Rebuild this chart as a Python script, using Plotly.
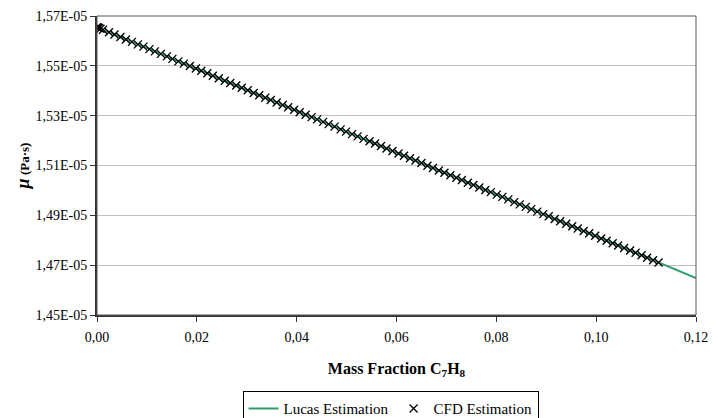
import plotly.graph_objects as go

# Lucas estimation (line)
lucas_x = [0.00, 0.02, 0.04, 0.06, 0.08, 0.10, 0.12]
lucas_y = [1.5655, 1.5487, 1.5319, 1.5151, 1.4983, 1.4816, 1.4648]  # x1e-5

# CFD estimation (markers)
cfd_x = [0.0000, 0.0002, 0.0004, 0.0007,
         0.0012, 0.0024, 0.0035, 0.0047, 0.0058, 0.0070, 0.0082, 0.0093, 0.0105, 0.0116,
         0.0128, 0.0140, 0.0151, 0.0163, 0.0174, 0.0186, 0.0198, 0.0209, 0.0221, 0.0232,
         0.0244, 0.0256, 0.0267, 0.0279, 0.0290, 0.0302, 0.0314, 0.0325, 0.0337, 0.0348,
         0.0360, 0.0372, 0.0383, 0.0395, 0.0406, 0.0418, 0.0430, 0.0441, 0.0453, 0.0464,
         0.0476, 0.0488, 0.0499, 0.0511, 0.0522, 0.0534, 0.0546, 0.0557, 0.0569, 0.0580,
         0.0592, 0.0604, 0.0615, 0.0627, 0.0638, 0.0650, 0.0662, 0.0673, 0.0685, 0.0696,
         0.0708, 0.0720, 0.0731, 0.0743, 0.0754, 0.0766, 0.0778, 0.0789, 0.0801, 0.0812,
         0.0824, 0.0836, 0.0847, 0.0859, 0.0870, 0.0882, 0.0894, 0.0905, 0.0917, 0.0928,
         0.0940, 0.0952, 0.0963, 0.0975, 0.0986, 0.0998, 0.1010, 0.1021, 0.1033, 0.1044,
         0.1056, 0.1068, 0.1079, 0.1091, 0.1102, 0.1114, 0.1125]
cfd_y = [1.5655, 1.5653, 1.5652, 1.5649,
         1.5645, 1.5635, 1.5626, 1.5616, 1.5606, 1.5596, 1.5586, 1.5577, 1.5567, 1.5558,
         1.5548, 1.5538, 1.5528, 1.5518, 1.5509, 1.5499, 1.5489, 1.5480, 1.5470, 1.5460,
         1.5450, 1.5440, 1.5431, 1.5421, 1.5412, 1.5402, 1.5391, 1.5382, 1.5372, 1.5363,
         1.5353, 1.5343, 1.5334, 1.5324, 1.5314, 1.5304, 1.5294, 1.5285, 1.5275, 1.5266,
         1.5256, 1.5245, 1.5236, 1.5226, 1.5217, 1.5207, 1.5197, 1.5188, 1.5178, 1.5168,
         1.5158, 1.5148, 1.5139, 1.5129, 1.5120, 1.5110, 1.5099, 1.5090, 1.5080, 1.5071,
         1.5061, 1.5051, 1.5042, 1.5031, 1.5022, 1.5012, 1.5002, 1.4993, 1.4983, 1.4974,
         1.4964, 1.4953, 1.4944, 1.4934, 1.4925, 1.4915, 1.4905, 1.4896, 1.4885, 1.4876,
         1.4866, 1.4856, 1.4847, 1.4837, 1.4828, 1.4818, 1.4807, 1.4798, 1.4788, 1.4779,
         1.4769, 1.4759, 1.4750, 1.4740, 1.4730, 1.4720, 1.4711]

y_ticks = [1.45, 1.47, 1.49, 1.51, 1.53, 1.55, 1.57]
y_tick_text = ["1,45E-05", "1,47E-05", "1,49E-05", "1,51E-05", "1,53E-05", "1,55E-05", "1,57E-05"]
x_ticks = [0.00, 0.02, 0.04, 0.06, 0.08, 0.10, 0.12]

SCALE = 1e-5
FONT = "Liberation Serif, Times New Roman, serif"

fig = go.Figure()
fig.add_trace(go.Scatter(
    x=lucas_x, y=[v * SCALE for v in lucas_y], mode="lines",
    name="Lucas Estimation", line=dict(color="#2E9E6B", width=2)))
fig.add_trace(go.Scatter(
    x=cfd_x, y=[v * SCALE for v in cfd_y], mode="markers",
    name="CFD Estimation",
    marker=dict(symbol="x-thin", size=8, color="black", line=dict(color="black", width=1.3))))

fig.update_layout(
    width=718, height=418,
    margin=dict(l=97, r=22, t=16, b=103, autoexpand=False),
    paper_bgcolor="white", plot_bgcolor="white",
    separators=",.",
    font=dict(family=FONT, size=14, color="black"),
    showlegend=True,
    legend=dict(orientation="h", x=0.49, xanchor="center", y=-0.255, yanchor="top",
                bordercolor="black", borderwidth=1, font=dict(size=15),
                itemwidth=30, tracegroupgap=0),
)
fig.update_xaxes(
    range=[0, 0.12], tickvals=x_ticks, tickformat=".2f",
    showgrid=False, zeroline=False,
    showline=True, linecolor="#333333", linewidth=2, mirror=False,
    ticks="outside", ticklen=5, tickcolor="#333333", ticklabelstandoff=3,
    title=dict(text="<b>Mass Fraction C<sub>7</sub>H<sub>8</sub></b>", font=dict(size=16), standoff=19),
)
fig.update_yaxes(
    range=[1.45 * SCALE, 1.57 * SCALE],
    tickvals=[v * SCALE for v in y_ticks], ticktext=y_tick_text,
    showgrid=True, gridcolor="#C0C0C0", gridwidth=1, zeroline=False,
    showline=True, linecolor="#333333", linewidth=2,
    ticks="outside", ticklen=5, tickcolor="#333333",
    title=dict(text="<b><i><span style='font-size:18px'>μ</span></i> (Pa·s)</b>", font=dict(size=13), standoff=3),
)
# thin border on top/right
fig.add_shape(type="rect", xref="paper", yref="paper", x0=0, y0=0, x1=1, y1=1,
              line=dict(color="#555555", width=1), layer="above")

fig.write_html("out.html")
